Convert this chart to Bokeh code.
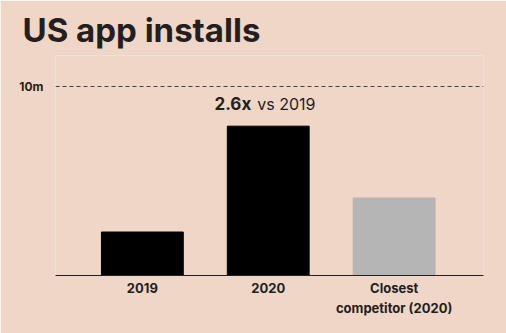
from bokeh.plotting import figure
from bokeh.models import Range1d, FixedTicker, ColumnDataSource
from bokeh.core.properties import value
from bokeh.embed import file_html
from bokeh.resources import INLINE

categories = ["2019", "2020", "Closest\ncompetitor (2020)"]
installs_m = [2.3, 7.9, 4.1]
bar_colors = ["#000000", "#000000", "#b5b5b5"]
ref_ticks = [10]
ref_labels = {10: "10m"}
annotation_bold = "2.6x"
annotation_rest = "vs 2019"

BG = "#efd6c7"
INK = "#231f20"
FONT = "Inter"

xs = [i + 0.5 for i in range(len(categories))]
src = ColumnDataSource(dict(x=xs, top=installs_m, color=bar_colors))

p = figure(width=506, height=333, output_backend="svg", toolbar_location=None,
           x_range=Range1d(-0.19, 3.21), y_range=Range1d(0, 11.64),
           min_border_left=55, min_border_right=23, min_border_bottom=58, min_border_top=55,
           background_fill_color=BG, border_fill_color=BG, outline_line_color=None)

p.title.text = "US app installs"
p.title.text_font = FONT
p.title.text_font_size = "33px"
p.title.text_font_style = "bold"
p.title.text_color = INK
p.title.align = "left"
p.title.offset = -33
p.title.standoff = 12

p.vbar(x="x", top="top", bottom=0, width=0.65, color="color", source=src)

# annotation over the 2020 bar
p.text(x=[xs[1]], y=[installs_m[1]], text=[annotation_bold], x_offset=-17, y_offset=-12,
       text_align="right", text_baseline="bottom", text_font=value(FONT),
       text_font_style="bold", text_font_size="17px", text_color=INK)
p.text(x=[xs[1]], y=[installs_m[1]], text=[annotation_rest], x_offset=-11, y_offset=-12,
       text_align="left", text_baseline="bottom", text_font=value(FONT),
       text_font_size="16px", text_color=INK)

xa = p.xaxis[0]
xa.ticker = FixedTicker(ticks=xs)
xa.major_label_overrides = {x: c for x, c in zip(xs, categories)}
xa.major_tick_line_color = None
xa.minor_tick_line_color = None
xa.axis_line_color = INK
xa.axis_line_width = 1.2
xa.major_label_text_font = FONT
xa.major_label_text_font_style = "bold"
xa.major_label_text_font_size = "13px"
xa.major_label_text_line_height = 1.3
xa.major_label_text_color = INK
xa.major_label_standoff = -2

ya = p.yaxis[0]
ya.ticker = FixedTicker(ticks=ref_ticks)
ya.major_label_overrides = ref_labels
ya.axis_line_color = None
ya.major_tick_line_color = None
ya.minor_tick_line_color = None
ya.major_label_text_font = FONT
ya.major_label_text_font_style = "bold"
ya.major_label_text_font_size = "12px"
ya.major_label_text_color = INK
ya.major_label_standoff = 6

p.xgrid.grid_line_color = None
p.ygrid.ticker = FixedTicker(ticks=ref_ticks)
p.ygrid.grid_line_color = "#444444"
p.ygrid.grid_line_dash = "4 3"
p.ygrid.grid_line_width = 1

open("out.html", "w").write(file_html(p, INLINE))
